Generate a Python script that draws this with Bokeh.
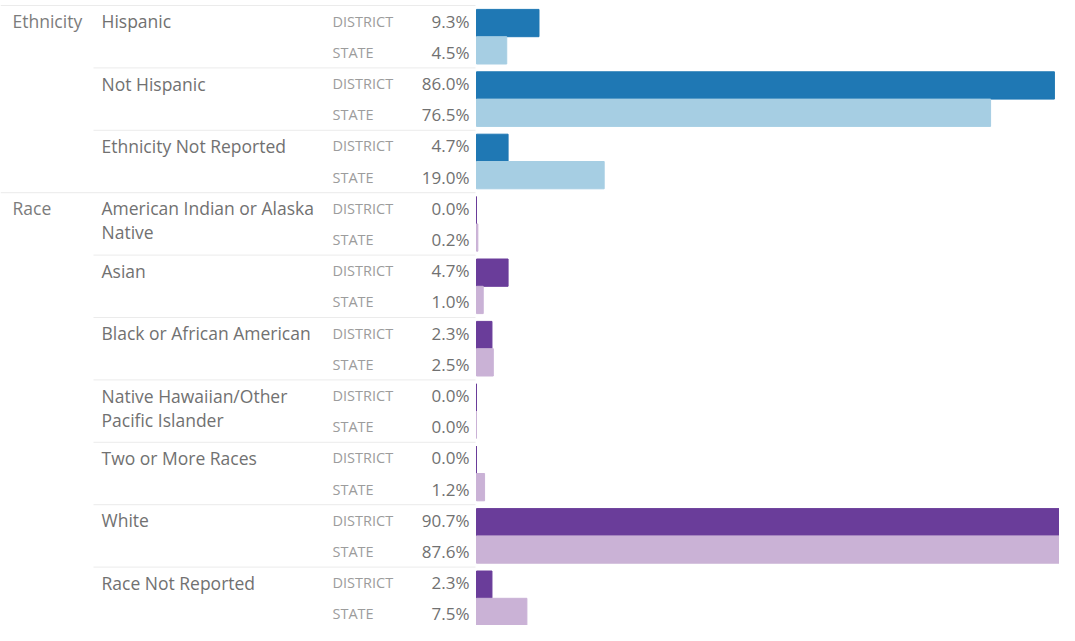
import textwrap
from bokeh.plotting import figure
from bokeh.models import Range1d, ColumnDataSource
from bokeh.core.properties import value
from bokeh.embed import file_html
from bokeh.resources import INLINE

# ---- data ----
groups = ["Ethnicity", "Race"]
categories = ["Hispanic", "Not Hispanic", "Ethnicity Not Reported",
              "American Indian or Alaska Native", "Asian", "Black or African American",
              "Native Hawaiian/Other Pacific Islander", "Two or More Races", "White",
              "Race Not Reported"]
category_group = ["Ethnicity", "Ethnicity", "Ethnicity",
                  "Race", "Race", "Race", "Race", "Race", "Race", "Race"]
series = ["DISTRICT", "STATE"]
district = [9.3, 86.0, 4.7, 0.0, 4.7, 2.3, 0.0, 0.0, 90.7, 2.3]
state = [4.5, 76.5, 19.0, 0.2, 1.0, 2.5, 0.0, 1.2, 87.6, 7.5]

# ---- styling ----
colors = {"Ethnicity": ("#1f78b4", "#a6cee3"), "Race": ("#6a3d9a", "#cab2d6")}
FONT = "Open Sans"
W, H = 1059, 625
ORIGIN = 476          # pixel of the bar baseline inside the figure
SCALE = 6.72          # pixels per percent
ROW = 31.2            # pixels per row
TOP = 5.0             # pixel of the first group's top edge inside the figure


def px(xpix):
    return (xpix - ORIGIN) / SCALE


p = figure(width=W, height=H, output_backend="svg", toolbar_location=None,
           x_range=Range1d(px(0), px(W)),
           y_range=Range1d((H - TOP) / ROW, (0 - TOP) / ROW),
           min_border=0, outline_line_color=None)
p.axis.visible = False
p.grid.visible = False
p.background_fill_color = "white"
p.border_fill_color = "white"

n = len(categories)
ys_d = [2 * i + 0.5625 for i in range(n)]
ys_s = [2 * i + 1.4375 for i in range(n)]
c_d = [colors[g][0] for g in category_group]
c_s = [colors[g][1] for g in category_group]

# separators
first_of_group = [i == 0 or category_group[i] != category_group[i - 1] for i in range(n)]
sep = ColumnDataSource(dict(
    x0=[px(0) if f else px(93) for f in first_of_group],
    x1=[px(475)] * n,
    y=[2 * i for i in range(n)]))
p.segment(x0="x0", x1="x1", y0="y", y1="y", source=sep, line_color="#ebebeb", line_width=1)

# bars
src_d = ColumnDataSource(dict(y=ys_d, v=district, c=c_d))
src_s = ColumnDataSource(dict(y=ys_s, v=state, c=c_s))
p.hbar(y="y", left=0, right="v", height=0.875, fill_color="c", line_color="c",
       line_width=1, source=src_d)
p.hbar(y="y", left=0, right="v", height=0.875, fill_color="c", line_color="c",
       line_width=1, source=src_s)

# group labels
g_rows = [i for i in range(n) if first_of_group[i]]
p.text(x=[0] * len(g_rows), y=[2 * i + 0.5 for i in g_rows],
       text=[category_group[i] for i in g_rows], x_offset=-464,
       text_font=value(FONT), text_font_size="17.5px", text_color="#7c7c7c",
       text_baseline="middle", text_align="left")

# category labels (wrapped)
wrapped = [textwrap.fill(c, width=25) for c in categories]
p.text(x=[0] * n, y=[2 * i + 0.5 for i in range(n)], text=wrapped, x_offset=-375,
       y_offset=-12, text_font=value(FONT), text_font_size="17.5px", text_color="#717171",
       text_baseline="top", text_align="left", text_line_height=1.0)

# series labels
p.text(x=[0] * n, y=[2 * i + 0.5 for i in range(n)], text=[series[0]] * n, x_offset=-144,
       text_font=value(FONT), text_font_size="14.5px", text_color="#9c9c9c",
       text_baseline="middle", text_align="left")
p.text(x=[0] * n, y=[2 * i + 1.5 for i in range(n)], text=[series[1]] * n, x_offset=-144,
       text_font=value(FONT), text_font_size="14.5px", text_color="#9c9c9c",
       text_baseline="middle", text_align="left")

# value labels
p.text(x=[0] * n, y=[2 * i + 0.5 for i in range(n)], text=[f"{v:.1f}%" for v in district],
       x_offset=-7, text_font=value(FONT), text_font_size="17px", text_color="#717171",
       text_baseline="middle", text_align="right")
p.text(x=[0] * n, y=[2 * i + 1.5 for i in range(n)], text=[f"{v:.1f}%" for v in state],
       x_offset=-7, text_font=value(FONT), text_font_size="17px", text_color="#717171",
       text_baseline="middle", text_align="right")

open("out.html", "w").write(file_html(p, INLINE))
